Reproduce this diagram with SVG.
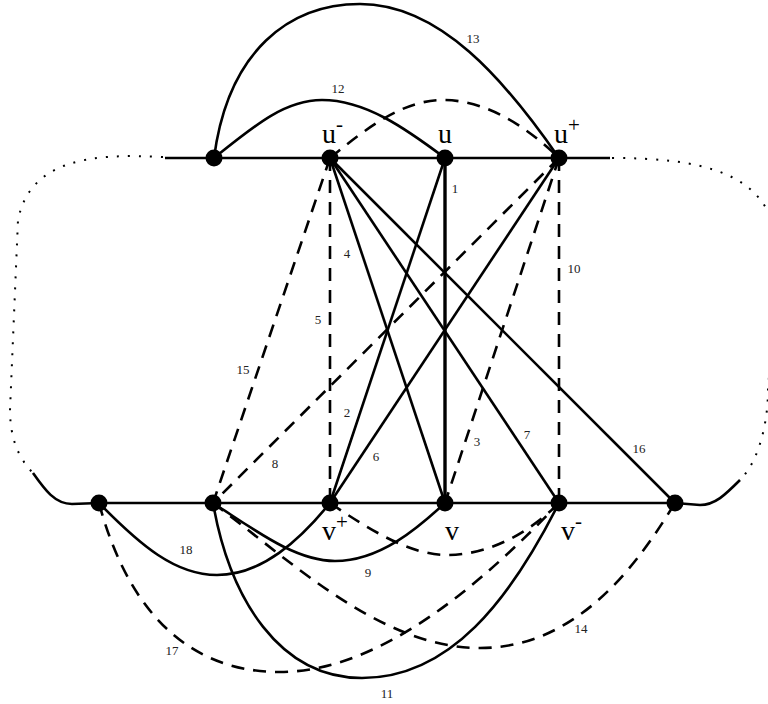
<svg xmlns="http://www.w3.org/2000/svg" width="768" height="704" viewBox="0 0 768 704">
<style>
.e{fill:none;stroke:#000;stroke-width:2.6;stroke-linecap:butt}
.d{stroke-dasharray:13,9}
.o{fill:none;stroke:#000;stroke-width:2;stroke-dasharray:2,9}
.n{fill:#000}
.lab{font-family:"Liberation Serif","Times New Roman",serif;font-size:13px;fill:#222;text-anchor:middle}
.big{font-family:"Liberation Serif","Times New Roman",serif;font-size:28px;fill:#000}
.sup{font-size:21px}
</style>
<rect width="768" height="704" fill="#fff"/>
<g id="connectors">
  <!-- main lines -->
  <path class="e" d="M165,158 L610,158"/>
  <path class="e" d="M99,503 L675,503"/>
  <path class="o" d="M163,157 C90,153 30,160 18,220 L10,410 C10,440 20,460 33,473"/>
  <path class="e" d="M33,473 C45,490 55,504 72,504 L99,503"/>
  <path class="o" d="M612,158 C700,158 768,172 776,240 L776,330 C776,355 768,370 768,390 C768,420 760,460 740,480"/>
  <path class="e" d="M740,480 C725,495 715,505 700,505 L675,503"/>
  <!-- top arcs -->
  <path class="e" d="M214,158 C228,50 290,4 360,4 C440,4 505,80 559,158"/>
  <path class="e" d="M214,158 C255,125 285,100 322,100 C365,100 405,128 445,158"/>
  <path class="e d" d="M330,158 C370,125 405,100 443,100 C485,100 525,125 559,158"/>
  <!-- from u- -->
  <path class="e d" d="M330,158 L213,503"/>
  <path class="e d" d="M330,158 L330,503"/>
  <path class="e" d="M330,158 L445,503"/>
  <path class="e" d="M330,158 L559,503"/>
  <path class="e" d="M330,158 L675,503"/>
  <!-- from u -->
  <path class="e" style="stroke-width:3.4" d="M445,158 L445,503"/>
  <path class="e" d="M445,158 L330,503"/>
  <!-- from u+ -->
  <path class="e" d="M559,158 L330,503"/>
  <path class="e d" d="M559,158 L213,503"/>
  <path class="e d" d="M559,158 L445,503"/>
  <path class="e d" d="M559,158 L559,503"/>
  <!-- bottom arcs -->
  <path class="e" d="M99,503 C140,545 175,575 217,575 C262,575 300,540 330,503"/>
  <path class="e" d="M213,503 C255,530 295,561 335,561 C380,561 418,528 445,503"/>
  <path class="e d" d="M330,503 C370,530 410,555 447,555 C490,555 530,532 559,503"/>
  <path class="e d" d="M213,503 C290,560 380,648 480,648 C580,648 640,560 675,503"/>
  <path class="e d" d="M99,503 C125,600 180,672 280,672 C385,672 490,575 559,503"/>
  <path class="e" d="M213,503 C230,600 280,678 362,678 C450,678 510,600 559,503"/>
</g>
<g id="edge-labels">
  <text class="lab" x="455" y="193">1</text>
  <text class="lab" x="347" y="417">2</text>
  <text class="lab" x="477" y="446">3</text>
  <text class="lab" x="347" y="258">4</text>
  <text class="lab" x="318" y="324">5</text>
  <text class="lab" x="376" y="461">6</text>
  <text class="lab" x="527" y="439">7</text>
  <text class="lab" x="275" y="468">8</text>
  <text class="lab" x="368" y="577">9</text>
  <text class="lab" x="574" y="273">10</text>
  <text class="lab" x="387" y="698">11</text>
  <text class="lab" x="338" y="93">12</text>
  <text class="lab" x="473" y="43">13</text>
  <text class="lab" x="581" y="633">14</text>
  <text class="lab" x="243" y="374">15</text>
  <text class="lab" x="639" y="453">16</text>
  <text class="lab" x="172" y="655">17</text>
  <text class="lab" x="186" y="554">18</text>
</g>
<g id="node-a"><circle class="n" cx="214" cy="158" r="8.5"/></g>
<g id="node-u-minus"><circle class="n" cx="330" cy="158" r="8.5"/><text class="big" x="322" y="143">u<tspan class="sup" dy="-12">-</tspan></text></g>
<g id="node-u"><circle class="n" cx="445" cy="158" r="8.5"/><text class="big" x="438" y="143">u</text></g>
<g id="node-u-plus"><circle class="n" cx="559" cy="158" r="8.5"/><text class="big" x="554" y="143">u<tspan class="sup" dy="-11">+</tspan></text></g>
<g id="node-b1"><circle class="n" cx="99" cy="503" r="8.5"/></g>
<g id="node-b2"><circle class="n" cx="213" cy="503" r="8.5"/></g>
<g id="node-v-plus"><circle class="n" cx="330" cy="503" r="8.5"/><text class="big" x="322" y="540">v<tspan class="sup" dy="-11">+</tspan></text></g>
<g id="node-v"><circle class="n" cx="445" cy="503" r="8.5"/><text class="big" x="445" y="540">v</text></g>
<g id="node-v-minus"><circle class="n" cx="559" cy="503" r="8.5"/><text class="big" x="561" y="540">v<tspan class="sup" dy="-12">-</tspan></text></g>
<g id="node-b6"><circle class="n" cx="675" cy="503" r="8.5"/></g>
</svg>
